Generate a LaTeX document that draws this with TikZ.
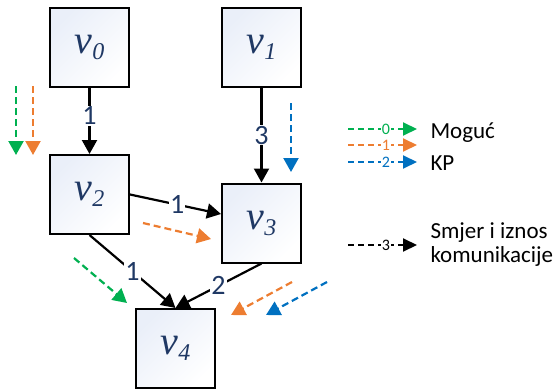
\documentclass[tikz,border=0pt]{standalone}
\usepackage{fontspec}
\setmainfont{Liberation Serif}
\newfontfamily\calibri{Carlito}
\definecolor{boxfill}{RGB}{234, 239, 249}
\definecolor{labelblue}{RGB}{31, 56, 100}
\definecolor{mgreen}{RGB}{0, 176, 80}
\definecolor{morange}{RGB}{237, 125, 49}
\definecolor{mblue}{RGB}{0, 112, 192}
\usetikzlibrary{arrows.meta}
\newcommand{\vlab}[1]{{\fontsize{40}{40}\selectfont\itshape v}%
    \raisebox{-6pt}{\fontsize{24}{24}\selectfont\itshape #1}}
\tikzset{
    vbox/.style={draw, line width=2pt, minimum size=79pt, inner sep=0pt,
        top color=boxfill, bottom color=white, shading angle=45,
        text=labelblue},
    comm/.style={line width=2.2pt, -{Triangle[length=14pt, width=15pt]}},
    weight/.style={font=\calibri\fontsize{28}{28}\selectfont,
        text=labelblue, fill=white, inner sep=1pt},
    hint/.style={line width=2.2pt, dash pattern=on 7pt off 4pt,
        -{Triangle[length=14pt, width=15pt]}},
    key/.style={line width=2pt, dash pattern=on 6pt off 4pt,
        -{Triangle[length=14pt, width=13pt]}},
    keynum/.style={font=\calibri\fontsize{16}{16}\selectfont, fill=white,
        inner sep=0.5pt},
    keytext/.style={font=\calibri\fontsize{23}{24}\selectfont, anchor=west,
        align=left},
}

\begin{document}
\begin{tikzpicture}[x=1pt, y=-1pt]
    \useasboundingbox (0, 0) rectangle (560, 391);
    % vertices
    \node[vbox] (v0) at (89.5, 47.5) {\vlab{0}};
    \node[vbox] (v1) at (261.5, 47.5) {\vlab{1}};
    \node[vbox] (v2) at (89.5, 194.5) {\vlab{2}};
    \node[vbox] (v3) at (261.5, 223) {\vlab{3}};
    \node[vbox] (v4) at (175.5, 348.5) {\vlab{4}};
    % communication
    \draw[comm] (v0) -- node[weight, pos=0.42] {1} (v2);
    \draw[comm] (v1) -- node[weight] {3} (v3);
    \draw[comm] (v2.east) -- node[weight, pos=0.52] {1} ([yshift=9pt]v3.west);
    \draw[comm] (v2.south) -- node[weight] {1} (v4.north);
    \draw[comm] (v3.south) -- node[weight] {2} (v4.north);
    % schedule hints
    \coordinate (g1s) at (16, 86);   \coordinate (g1e) at (16, 155);
    \coordinate (o1s) at (33, 86);   \coordinate (o1e) at (33, 155);
    \coordinate (b1s) at (291, 103); \coordinate (b1e) at (291, 172);
    \coordinate (o2s) at (143, 223); \coordinate (o2e) at (211, 239);
    \coordinate (g2s) at (74, 258);  \coordinate (g2e) at (127, 303);
    \coordinate (o3s) at (292, 282); \coordinate (o3e) at (231, 315);
    \coordinate (b2s) at (327, 282); \coordinate (b2e) at (266, 315);
    \draw[hint, mgreen] (g1s) -- (g1e);
    \draw[hint, morange] (o1s) -- (o1e);
    \draw[hint, mblue] (b1s) -- (b1e);
    \draw[hint, morange] (o2s) -- (o2e);
    \draw[hint, mgreen] (g2s) -- (g2e);
    \draw[hint, morange] (o3s) -- (o3e);
    \draw[hint, mblue] (b2s) -- (b2e);
    % legend
    \coordinate (k0s) at (348, 129); \coordinate (k0e) at (417, 129);
    \coordinate (k1s) at (348, 145); \coordinate (k1e) at (417, 145);
    \coordinate (k2s) at (348, 162); \coordinate (k2e) at (417, 162);
    \coordinate (k3s) at (348, 245); \coordinate (k3e) at (417, 245);
    \draw[key, mgreen] (k0s) -- node[keynum, pos=0.55] {0} (k0e);
    \draw[key, morange] (k1s) -- node[keynum, pos=0.55] {1} (k1e);
    \draw[key, mblue] (k2s) -- node[keynum, pos=0.55] {2} (k2e);
    \draw[key, black] (k3s) -- node[keynum, pos=0.55] {3} (k3e);
    \node[keytext] (moguc) at (427, 133) {Moguć};
    \node[keytext] (kp) at (427, 163) {KP};
    \node[keytext] (smjer) at (427, 245) {Smjer i iznos\\komunikacije};
\end{tikzpicture}
\end{document}
